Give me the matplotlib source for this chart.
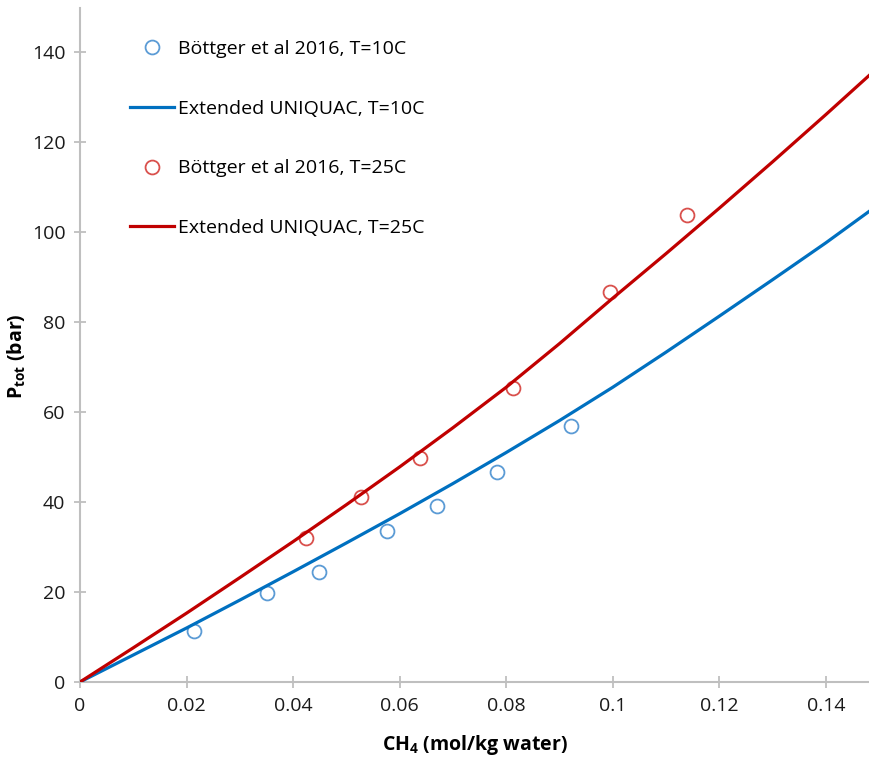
import matplotlib.pyplot as plt

plt.rcParams['font.family'] = ['Open Sans', 'DejaVu Sans']
plt.rcParams['mathtext.fontset'] = 'custom'
plt.rcParams['mathtext.rm'] = 'Open Sans'
plt.rcParams['mathtext.bf'] = 'Open Sans:bold'

# measured data (Böttger et al 2016)
x_10 = [0.0214, 0.0351, 0.0448, 0.0577, 0.0670, 0.0783, 0.0921]
p_10 = [11.4, 19.7, 24.5, 33.5, 39.1, 46.7, 57.0]
x_25 = [0.0425, 0.0527, 0.0639, 0.0813, 0.0994, 0.1140]
p_25 = [32.0, 41.2, 49.8, 65.4, 86.7, 103.8]

# Extended UNIQUAC model curves
x_model = [0, 0.01, 0.02, 0.03, 0.04, 0.05, 0.06, 0.07, 0.08, 0.09, 0.10,
           0.11, 0.12, 0.13, 0.14, 0.15]
p_model_10 = [0, 6.0, 12.0, 18.2, 24.5, 30.9, 37.4, 44.1, 51.0, 58.1, 65.5,
              73.3, 81.3, 89.4, 97.6, 106.2]
p_model_25 = [0, 7.6, 15.3, 23.2, 31.2, 39.4, 47.8, 56.5, 65.5, 75.2, 85.3,
              95.2, 105.3, 115.6, 126.1, 136.8]

labels = ["Böttger et al 2016, T=10C", "Extended UNIQUAC, T=10C",
          "Böttger et al 2016, T=25C", "Extended UNIQUAC, T=25C"]

fig = plt.figure(figsize=(8.7, 7.64), dpi=100)
ax = fig.add_axes([80 / 870, 82 / 764, 790 / 870, 674 / 764])

h1, = ax.plot(x_10, p_10, 'o', mfc='none', mec='#5B9BD5', ms=10, mew=1.3,
              label=labels[0])
h2, = ax.plot(x_model, p_model_10, '-', color='#0070C0', lw=2.3, label=labels[1])
h3, = ax.plot(x_25, p_25, 'o', mfc='none', mec='#D9504C', ms=10, mew=1.3,
              label=labels[2])
h4, = ax.plot(x_model, p_model_25, '-', color='#C00000', lw=2.3, label=labels[3])

ax.set_xlim(0, 0.1483)
ax.set_ylim(0, 149.8)
ax.set_xticks([0, 0.02, 0.04, 0.06, 0.08, 0.1, 0.12, 0.14])
ax.set_xticklabels(["0", "0.02", "0.04", "0.06", "0.08", "0.1", "0.12", "0.14"])
ax.set_yticks(range(0, 141, 20))

for s in ['top', 'right']:
    ax.spines[s].set_visible(False)
for s in ['left', 'bottom']:
    ax.spines[s].set_color('#BFBFBF')
    ax.spines[s].set_linewidth(1.5)
    ax.spines[s].set_zorder(0)
ax.tick_params(direction='inout', length=9, width=1.3, color='#BFBFBF',
               labelsize=14, labelcolor='#1a1a1a', pad=6)
ax.set_xlabel(r"CH$_\mathbf{4}$ (mol/kg water)", fontsize=14, fontweight='bold',
              labelpad=13)
ax.set_ylabel(r"P$_\mathbf{tot}$ (bar)", fontsize=14, fontweight='bold')
ax.yaxis.set_label_coords(-0.066, 0.484)

ax.legend(handles=[h1, h2, h3, h4], loc='upper left',
          bbox_to_anchor=(120 / 870, 1 - 30 / 764), bbox_transform=fig.transFigure,
          frameon=False, fontsize=14, handlelength=2.3, handletextpad=0.2,
          labelspacing=2.15, borderpad=0)

fig.savefig("out.png", dpi=100)
